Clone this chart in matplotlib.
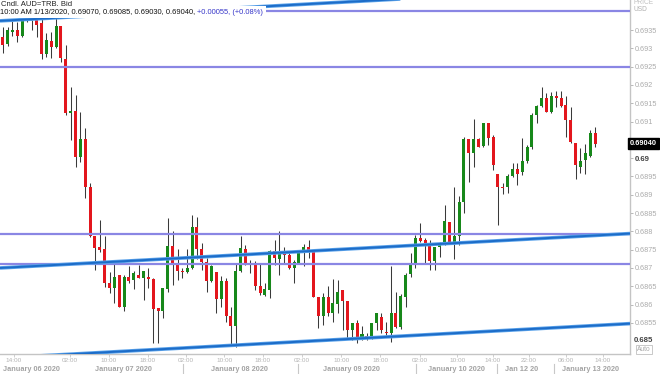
import matplotlib
matplotlib.use('Agg')
import matplotlib.pyplot as plt
from matplotlib.transforms import blended_transform_factory

# ---------------- data (hourly AUD=TRB candles) ----------------
opens = [0.69331, 0.69312, 0.69345, 0.69350, 0.69334, 0.69386, 0.69375, 0.69377, 0.69369, 0.69284,
         0.69320, 0.69304, 0.69361, 0.69271, 0.69123, 0.69129, 0.69003, 0.69052, 0.68921, 0.68787,
         0.68757, 0.68751, 0.68659, 0.68645, 0.68680, 0.68593, 0.68675, 0.68667, 0.68680, 0.68672,
         0.68675, 0.68670, 0.68590, 0.68582, 0.68642, 0.68760, 0.68713, 0.68691, 0.68689, 0.68700,
         0.68812, 0.68751, 0.68716, 0.68664, 0.68689, 0.68615, 0.68664, 0.68568, 0.68541, 0.68691,
         0.68751, 0.68711, 0.68711, 0.68650, 0.68626, 0.68639, 0.68746, 0.68724, 0.68741, 0.68735,
         0.68700, 0.68713, 0.68743, 0.68757, 0.68743, 0.68620, 0.68568, 0.68620, 0.68577, 0.68601,
         0.68639, 0.68609, 0.68530, 0.68549, 0.68508, 0.68514, 0.68508, 0.68549, 0.68566, 0.68525,
         0.68522, 0.68577, 0.68538, 0.68620, 0.68683, 0.68713, 0.68782, 0.68776, 0.68768, 0.68719,
         0.68757, 0.68768, 0.68825, 0.68768, 0.68787, 0.68880, 0.69052, 0.69014, 0.69052, 0.69033,
         0.69096, 0.69058, 0.68957, 0.68921, 0.68921, 0.68951, 0.68970, 0.68962, 0.68992, 0.69030,
         0.69118, 0.69142, 0.69164, 0.69126, 0.69170, 0.69164, 0.69145, 0.69104, 0.69041, 0.68976,
         0.68995, 0.69006, 0.69070]
highs = [0.69358, 0.69358, 0.69375, 0.69372, 0.69397, 0.69391, 0.69383, 0.69383, 0.69383, 0.69342,
         0.69345, 0.69391, 0.69361, 0.69309, 0.69194, 0.69172, 0.69126, 0.69082, 0.68932, 0.68787,
         0.68831, 0.68787, 0.68689, 0.68716, 0.68680, 0.68680, 0.68705, 0.68691, 0.68708, 0.68691,
         0.68700, 0.68672, 0.68590, 0.68645, 0.68836, 0.68801, 0.68751, 0.68700, 0.68751, 0.68844,
         0.68839, 0.68768, 0.68727, 0.68708, 0.68689, 0.68678, 0.68672, 0.68593, 0.68713, 0.68787,
         0.68762, 0.68721, 0.68719, 0.68713, 0.68659, 0.68749, 0.68776, 0.68801, 0.68757, 0.68743,
         0.68721, 0.68749, 0.68765, 0.68776, 0.68743, 0.68620, 0.68631, 0.68650, 0.68670, 0.68667,
         0.68639, 0.68609, 0.68549, 0.68557, 0.68541, 0.68522, 0.68549, 0.68577, 0.68577, 0.68552,
         0.68705, 0.68634, 0.68629, 0.68686, 0.68741, 0.68790, 0.68823, 0.68782, 0.68776, 0.68757,
         0.68771, 0.68872, 0.68825, 0.68921, 0.68896, 0.69058, 0.69052, 0.69107, 0.69055, 0.69096,
         0.69096, 0.69063, 0.68957, 0.68932, 0.68957, 0.68987, 0.68987, 0.69055, 0.69036, 0.69123,
         0.69145, 0.69194, 0.69178, 0.69181, 0.69183, 0.69183, 0.69170, 0.69140, 0.69041, 0.69028,
         0.69038, 0.69077, 0.69085]
lows = [0.69287, 0.69306, 0.69334, 0.69317, 0.69331, 0.69372, 0.69350, 0.69331, 0.69271, 0.69276,
        0.69274, 0.69301, 0.69263, 0.69118, 0.69049, 0.68976, 0.68989, 0.68891, 0.68784, 0.68694,
        0.68743, 0.68648, 0.68631, 0.68604, 0.68593, 0.68582, 0.68659, 0.68642, 0.68672, 0.68612,
        0.68645, 0.68495, 0.68495, 0.68563, 0.68634, 0.68653, 0.68667, 0.68672, 0.68686, 0.68697,
        0.68724, 0.68694, 0.68634, 0.68661, 0.68577, 0.68593, 0.68552, 0.68486, 0.68484, 0.68689,
        0.68708, 0.68686, 0.68639, 0.68626, 0.68623, 0.68618, 0.68708, 0.68680, 0.68713, 0.68697,
        0.68659, 0.68711, 0.68705, 0.68727, 0.68620, 0.68536, 0.68544, 0.68568, 0.68552, 0.68577,
        0.68530, 0.68506, 0.68503, 0.68495, 0.68503, 0.68503, 0.68506, 0.68530, 0.68522, 0.68511,
        0.68497, 0.68536, 0.68533, 0.68593, 0.68675, 0.68700, 0.68771, 0.68713, 0.68694, 0.68694,
        0.68730, 0.68762, 0.68768, 0.68724, 0.68762, 0.68850, 0.68935, 0.68976, 0.69030, 0.69030,
        0.69036, 0.68967, 0.68817, 0.68902, 0.68905, 0.68948, 0.68926, 0.68954, 0.68987, 0.69025,
        0.69096, 0.69140, 0.69126, 0.69123, 0.69140, 0.69140, 0.69058, 0.69041, 0.68943, 0.68959,
        0.68957, 0.69003, 0.69030]
closes = [0.69309, 0.69350, 0.69347, 0.69334, 0.69388, 0.69375, 0.69383, 0.69364, 0.69284, 0.69323,
          0.69304, 0.69361, 0.69274, 0.69123, 0.69129, 0.69003, 0.69052, 0.68921, 0.68787, 0.68754,
          0.68749, 0.68659, 0.68645, 0.68675, 0.68593, 0.68675, 0.68664, 0.68686, 0.68672, 0.68691,
          0.68670, 0.68588, 0.68582, 0.68645, 0.68760, 0.68713, 0.68691, 0.68689, 0.68700, 0.68812,
          0.68751, 0.68716, 0.68664, 0.68705, 0.68615, 0.68664, 0.68568, 0.68541, 0.68691, 0.68754,
          0.68711, 0.68708, 0.68650, 0.68631, 0.68642, 0.68746, 0.68727, 0.68738, 0.68735, 0.68700,
          0.68716, 0.68743, 0.68757, 0.68749, 0.68620, 0.68568, 0.68620, 0.68577, 0.68604, 0.68634,
          0.68609, 0.68530, 0.68549, 0.68508, 0.68519, 0.68508, 0.68549, 0.68577, 0.68530, 0.68522,
          0.68577, 0.68538, 0.68623, 0.68680, 0.68713, 0.68782, 0.68773, 0.68768, 0.68719, 0.68757,
          0.68768, 0.68828, 0.68768, 0.68787, 0.68880, 0.69052, 0.69014, 0.69052, 0.69030, 0.69096,
          0.69055, 0.68981, 0.68921, 0.68918, 0.68951, 0.68970, 0.68957, 0.68992, 0.69030, 0.69118,
          0.69142, 0.69164, 0.69126, 0.69170, 0.69164, 0.69142, 0.69104, 0.69044, 0.68981, 0.68992,
          0.69014, 0.69070, 0.69040]

# horizontal support / resistance levels
level_lines = [0.69402, 0.69249, 0.68793, 0.68711]
# trend channel lines: (bar index) endpoints and prices
trend_x = [-0.56, 129.2]
trend_top = [0.69375, 0.69469]
trend_mid = [0.68700, 0.68794]
trend_low = [0.68454, 0.68548]

price_ticks = [0.6855, 0.686, 0.6865, 0.687, 0.6875, 0.688, 0.6885, 0.689, 0.6895,
               0.69, 0.6905, 0.691, 0.6915, 0.692, 0.6925, 0.693, 0.6935]
# 0.6905 is hidden behind the last-price marker in the reference
price_labels = ['0.6855', '0.686', '0.6865', '0.687', '0.6875', '0.688', '0.6885', '0.689', '0.6895',
                '0.69', '', '0.691', '0.6915', '0.692', '0.6925', '0.693', '0.6935']
time_pos = [2.3, 13.9, 21.9, 29.9, 37.8, 45.6, 53.6, 61.6, 69.7, 77.8, 85.9, 93.6, 101.0, 108.4, 116.0, 123.6]
time_labels = ['14:00', '02:00', '10:00', '18:00', '02:00', '10:00', '18:00', '02:00', '10:00',
               '18:00', '02:00', '10:00', '14:00', '22:00', '06:00', '14:00']
date_pos = [6.0, 24.8, 48.7, 71.9, 93.4, 106.8, 121.0]
date_labels = ['January 06 2020', 'January 07 2020', 'January 08 2020', 'January 09 2020',
               'January 10 2020', 'Jan 12 20', 'January 13 2020']
date_seps = [37.1, 60.8, 85.1, 101.8, 113.5]

last_price = 0.69040
header1 = 'Cndl, AUD=TRB, Bid'
header2 = '10:00 AM 1/13/2020, 0.69070, 0.69085, 0.69030, 0.69040, '
header3 = '+0.00055, (+0.08%)'

# ---------------- drawing ----------------
W, H = 660, 374
fig = plt.figure(figsize=(W / 100, H / 100), dpi=100)
fig.patch.set_facecolor('white')
FONT = 'Liberation Sans'
ax = fig.add_axes([0, 20 / H, 630 / W, 354 / H])
ax.set_facecolor('white')
ax.set_xlim(-0.56, 129.2)
ax.set_ylim(0.68465, 0.69432)

GREEN = '#17881a'
RED = '#e3161d'
for i, (o, h, l, c) in enumerate(zip(opens, highs, lows, closes)):
    col = GREEN if c > o else RED
    ax.vlines(i, l, h, color='#3a3a3a', lw=0.75, zorder=2)
    bottom = min(o, c)
    height = max(abs(c - o), 0.00004)
    ax.bar(i, height, bottom=bottom, width=0.62, color=col, edgecolor='none', zorder=3)

for lv in level_lines:
    ax.axhline(lv, color='#8a86e4', lw=1.6, zorder=4)
for tl in (trend_top, trend_mid, trend_low):
    ax.plot(trend_x, tl, color='#5aa2ea', lw=2.6, zorder=5, solid_capstyle='butt')
    ax.plot(trend_x, tl, color='#1c6cc8', lw=1.4, zorder=6, solid_capstyle='butt')

# spines
for s in ('top', 'left'):
    ax.spines[s].set_visible(False)
for s in ('right', 'bottom'):
    ax.spines[s].set_color('#c4c4c4')
    ax.spines[s].set_linewidth(1.0)

# right price axis
ax.yaxis.tick_right()
ax.set_yticks(price_ticks)
ax.set_yticklabels(price_labels)
ax.tick_params(axis='y', which='major', length=2.5, width=0.7, color='#b8b8b8', pad=1.2,
               labelsize=5.2, labelcolor='#ababab')
for lbl in ax.get_yticklabels():
    lbl.set_fontfamily(FONT)
    if lbl.get_text() in ('0.69', '0.685'):
        lbl.set_fontweight('bold')
        lbl.set_color('#444444')
        lbl.set_fontsize(5.6)

# bottom time axis
ax.set_xticks(time_pos)
ax.set_xticklabels(time_labels)
ax.tick_params(axis='x', length=2, width=0.6, color='#c8c8c8', pad=1.0, labelsize=4.6,
               labelcolor='#b4b4b4')
for lbl in ax.get_xticklabels():
    lbl.set_fontfamily(FONT)

trans = blended_transform_factory(ax.transData, fig.transFigure)
for p, t in zip(date_pos, date_labels):
    fig.text(p, 1 - 369.5 / H, t, transform=trans, ha='center', va='center', fontsize=5.3,
             fontweight='bold', color='#a4a4a4', family=FONT)
for p in date_seps:
    fig.add_artist(plt.Line2D([p, p], [1 - 364 / H, 1 - 374 / H], transform=trans,
                              color='#c8c8c8', lw=0.8))

# "0.685" label below last tick (bold) and Auto box
fig.text(634 / W, 1 - 341 / H, '0.685', ha='left', va='center', fontsize=5.6, fontweight='bold',
         color='#444444', family=FONT)
fig.text(644 / W, 1 - 349.5 / H, 'Auto', ha='center', va='center', fontsize=4.8, color='#a8a8a8',
         family=FONT, bbox=dict(boxstyle='square,pad=0.15', facecolor='white', edgecolor='#c0c0c0', lw=0.6))
fig.text(634 / W, 1 - 2 / H, 'PRICE', ha='left', va='center', fontsize=4.8, color='#c0c0c0', family=FONT)
fig.text(634 / W, 1 - 9.5 / H, 'USD', ha='left', va='center', fontsize=4.8, color='#b0b0b0', family=FONT)

# last price marker
ax.text(1.0, last_price, '%.5f' % last_price, transform=blended_transform_factory(ax.transAxes, ax.transData),
        ha='left', va='center', fontsize=5.4, fontweight='bold', color='white', family=FONT, zorder=10,
        clip_on=False, bbox=dict(boxstyle='square,pad=0.25', facecolor='black', edgecolor='black'))

# header
t1 = fig.text(1 / W, 1 - 3.5 / H, header1, ha='left', va='center', fontsize=5.5, color='#222222', family=FONT)
t2 = fig.text(0, 1 - 12 / H, header2, ha='left', va='center', fontsize=5.4, color='#111111', family=FONT,
              bbox=dict(boxstyle='square,pad=0.3', facecolor='white', edgecolor='none'))
fig.canvas.draw()
r = fig.canvas.get_renderer()
bb = t2.get_window_extent(r)
fig.text(bb.x1 / W, 1 - 12 / H, header3, ha='left', va='center', fontsize=5.4, color='#3434c8',
         family=FONT, bbox=dict(boxstyle='square,pad=0.3', facecolor='white', edgecolor='none'))

fig.savefig('out.png', dpi=100, facecolor='white')
